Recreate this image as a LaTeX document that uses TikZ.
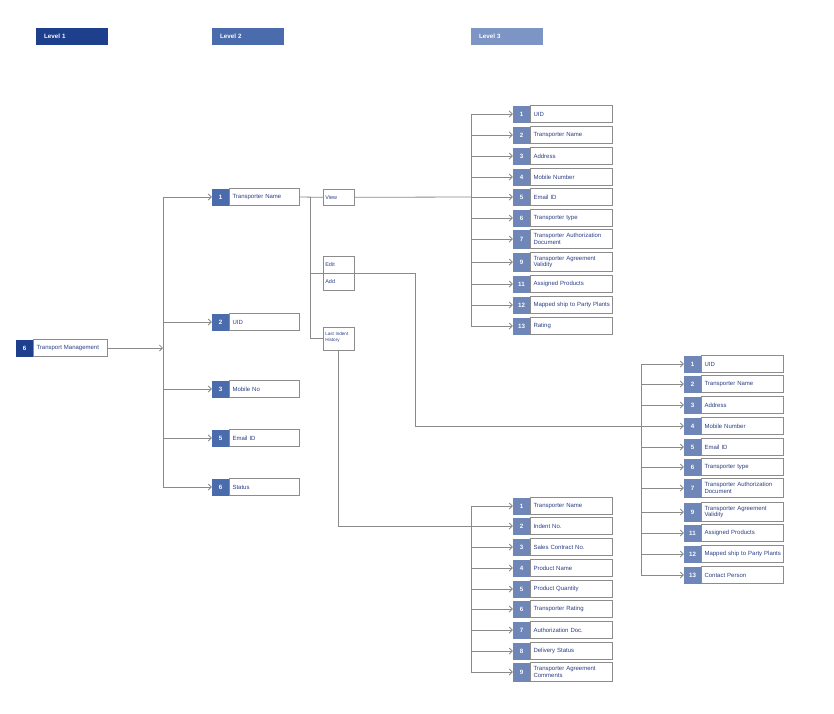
\documentclass[tikz,border=0pt]{standalone}
\usepackage{fontspec}
\setmainfont{Liberation Sans}
\usetikzlibrary{arrows.meta}
\definecolor{lvone}{HTML}{1E3F8C}
\definecolor{lvtwo}{HTML}{4B6CAC}
\definecolor{lvthree}{HTML}{7D95C4}
\definecolor{numthree}{HTML}{6E86B8}
\definecolor{txtblue}{HTML}{2B3F86}
\definecolor{bordergray}{HTML}{8C8C8C}
\definecolor{linegray}{HTML}{8A8A8A}
\newcommand\drow[6]{% name, num-left x, y, number, text, height
  \node[numbox, minimum height=#6] (#1-n) at (#2+8.5,#3) {#4};
  \node[txtbox, minimum height=#6, anchor=west] (#1) at (#1-n.east) {#5};
}
\begin{document}
\begin{tikzpicture}[x=1pt,y=-1pt,
  hdr/.style={fill=#1, text=white, font=\fontsize{6.2}{7}\selectfont\bfseries,
    minimum height=17pt, text width=56pt, inner xsep=8pt, align=left, anchor=west},
  numbox/.style={fill=numthree, text=white, font=\fontsize{6.2}{7}\selectfont\bfseries,
    minimum width=17pt, inner sep=0pt},
  txtbox/.style={draw=bordergray, line width=0.6pt, fill=white, text=txtblue,
    font=\fontsize{6}{6.6}\selectfont, text width=76pt, inner xsep=3pt, inner ysep=1pt, align=left},
  smallbox/.style={draw=bordergray, line width=0.6pt, fill=white, text=txtblue,
    font=\fontsize{5.5}{6}\selectfont, minimum width=31pt, text width=27pt, inner xsep=2pt, align=left, anchor=north west},
  ln/.style={draw=linegray, line width=0.8pt},
  arr/.style={draw=linegray, line width=0.8pt, -{Straight Barb[length=3pt,width=6pt]}}]
\useasboundingbox[fill=white] (0,0) rectangle (834,713);

% headers
\node[hdr=lvone] (h1) at (36,36.5) {Level 1};
\node[hdr=lvtwo] (h2) at (212,36.5) {Level 2};
\node[hdr=lvthree] (h3) at (471,36.5) {Level 3};

% level 1
\node[numbox, fill=lvone, minimum height=17pt] (L1-n) at (24.5,348) {6};
\node[txtbox, text width=68pt, minimum height=17pt, anchor=west] (L1) at (L1-n.east) {Transport Management};

% level 2
\begin{scope}[numbox/.append style={fill=lvtwo}, txtbox/.append style={text width=64pt}]
\drow{m1}{212}{197}{1}{Transporter Name}{17pt}
\drow{m2}{212}{322}{2}{UID}{17pt}
\drow{m3}{212}{389}{3}{Mobile No}{17pt}
\drow{m4}{212}{438}{5}{Email ID}{17pt}
\drow{m5}{212}{487}{6}{Status}{17pt}
\end{scope}

% small action boxes
\node[smallbox, minimum height=16pt] (View) at (323,189) {View};
\node[smallbox, minimum height=17pt] (Edit) at (323,256) {Edit};
\node[smallbox, minimum height=17pt] (Add) at (323,273) {Add};
\node[smallbox, minimum height=23pt, font=\fontsize{4.6}{5.6}\selectfont, inner ysep=2pt, text depth=9pt] (LIH) at (323,327) {Last Indent\\History};

% level 3 top list
\drow{a1}{513}{114}{1}{UID}{17pt}
\drow{a2}{513}{135}{2}{Transporter Name}{17pt}
\drow{a3}{513}{156}{3}{Address}{17pt}
\drow{a4}{513}{177}{4}{Mobile Number}{17pt}
\drow{a5}{513}{197}{5}{Email ID}{17pt}
\drow{a6}{513}{218}{6}{Transporter type}{17pt}
\drow{a7}{513}{239}{7}{Transporter Authorization\\Document}{19pt}
\drow{a9}{513}{262}{9}{Transporter Agreement\\Validity}{19pt}
\drow{a11}{513}{284}{11}{Assigned Products}{17pt}
\drow{a12}{513}{305}{12}{\mbox{Mapped ship to Party Plants}}{17pt}
\drow{a13}{513}{326}{13}{Rating}{17pt}

% level 3 right list
\drow{b1}{684}{364}{1}{UID}{17pt}
\drow{b2}{684}{384}{2}{Transporter Name}{17pt}
\drow{b3}{684}{405}{3}{Address}{17pt}
\drow{b4}{684}{426}{4}{Mobile Number}{17pt}
\drow{b5}{684}{447}{5}{Email ID}{17pt}
\drow{b6}{684}{467}{6}{Transporter type}{17pt}
\drow{b7}{684}{488}{7}{Transporter Authorization\\Document}{19pt}
\drow{b9}{684}{512}{9}{Transporter Agreement\\Validity}{19pt}
\drow{b11}{684}{533}{11}{Assigned Products}{17pt}
\drow{b12}{684}{554}{12}{\mbox{Mapped ship to Party Plants}}{17pt}
\drow{b13}{684}{575}{13}{Contact Person}{17pt}

% level 3 bottom list
\drow{c1}{513}{506}{1}{Transporter Name}{17pt}
\drow{c2}{513}{526}{2}{Indent No.}{17pt}
\drow{c3}{513}{547}{3}{Sales Contract No.}{17pt}
\drow{c4}{513}{568}{4}{Product Name}{17pt}
\drow{c5}{513}{589}{5}{Product Quantity}{17pt}
\drow{c6}{513}{609}{6}{Transporter Rating}{17pt}
\drow{c7}{513}{630}{7}{Authorization Doc.}{17pt}
\drow{c8}{513}{651}{8}{Delivery Status}{17pt}
\drow{c9}{513}{672}{9}{Transporter Agreement\\Comments}{19pt}

% trunk coordinates
\coordinate (tr2) at (163,0);
\coordinate (jv) at (310,0);
\coordinate (bend) at (415,0);
\coordinate (tra) at (471,0);
\coordinate (trb) at (641,0);

% level 1 -> level 2
\draw[arr] (L1.east) -- (tr2 |- L1.east);
\draw[ln] (tr2 |- m1-n) -- (tr2 |- m5-n);
\foreach \i in {1,...,5} \draw[arr] (tr2 |- m\i-n.west) -- (m\i-n.west);

% transporter name -> actions
\draw[ln] (m1.east) -- (View.west);
\draw[ln] (jv |- m1.east) |- (LIH.west);
\draw[ln] (View.east) -- (tra |- a5-n);
\draw[ln] (jv |- Edit.south) -| (bend |- b4-n) -- (trb |- b4-n);
\draw[ln] (LIH.south) |- (tra |- c2-n);

% top list
\draw[ln] (tra |- a1-n) -- (tra |- a13-n);
\foreach \i in {1,2,3,4,5,6,7,9,11,12,13} \draw[arr] (tra |- a\i-n.west) -- (a\i-n.west);
% right list
\draw[ln] (trb |- b1-n) -- (trb |- b13-n);
\foreach \i in {1,2,3,4,5,6,7,9,11,12,13} \draw[arr] (trb |- b\i-n.west) -- (b\i-n.west);
% bottom list
\draw[ln] (tra |- c1-n) -- (tra |- c9-n);
\foreach \i in {1,...,9} \draw[arr] (tra |- c\i-n.west) -- (c\i-n.west);
\end{tikzpicture}
\end{document}
